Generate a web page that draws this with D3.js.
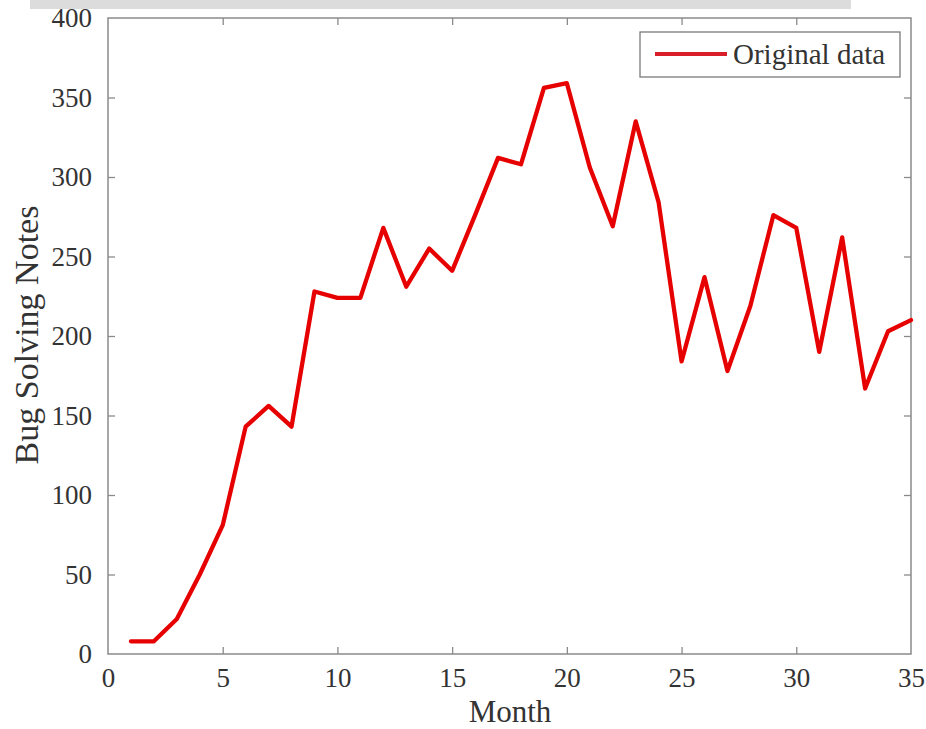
<!DOCTYPE html>
<html>
<head>
<meta charset="utf-8">
<script src="https://cdn.jsdelivr.net/npm/d3@7/dist/d3.min.js"></script>
<style>
  html, body { margin: 0; padding: 0; background: #fff; }
  svg { display: block; }
</style>
</head>
<body>
<svg id="chart" width="926" height="729"></svg>
<script>
const months = d3.range(1, 36);
const bugNotes = [8, 8, 22, 50, 81, 143, 156, 143, 228, 224,
                  224, 268, 231, 255, 241, 276, 312, 308, 356, 359,
                  306, 269, 335, 284, 184, 237, 178, 219, 276, 268,
                  190, 262, 167, 203, 210];
const xTicks = [0, 5, 10, 15, 20, 25, 30, 35];
const yTicks = [0, 50, 100, 150, 200, 250, 300, 350, 400];
const seriesName = "Original data";
const xLabel = "Month";
const yLabel = "Bug Solving Notes";

const svg = d3.select("#chart");
const L = 108, R = 911, T = 18, B = 654;
const x = d3.scaleLinear().domain([0, 35]).range([L, R]);
const y = d3.scaleLinear().domain([0, 400]).range([B, T]);

const font = "'Liberation Serif', 'Times New Roman', serif";
const axisColor = "#8a8a8a";
const textColor = "#333";

// top gray strip
svg.append("rect").attr("x", 30).attr("y", 0).attr("width", 821).attr("height", 9).attr("fill", "#dcdcdc");

// frame
svg.append("rect").attr("x", L).attr("y", T).attr("width", R - L).attr("height", B - T)
  .attr("fill", "none").attr("stroke", axisColor).attr("stroke-width", 1.5);

function styleAxis(g) {
  g.select(".domain").remove();
  g.selectAll(".tick line").attr("stroke", axisColor).attr("stroke-width", 1.3);
  g.selectAll(".tick text").attr("fill", textColor).style("font-family", font).style("font-size", "27px");
}

svg.append("g").attr("transform", `translate(0,${B})`)
  .call(d3.axisBottom(x).tickValues(xTicks).tickSizeInner(-7).tickSizeOuter(0).tickPadding(14).tickFormat(d3.format("d")))
  .call(styleAxis);
svg.append("g").attr("transform", `translate(0,${T})`)
  .call(d3.axisTop(x).tickValues(xTicks).tickSizeInner(-7).tickSizeOuter(0).tickFormat(""))
  .call(styleAxis);
svg.append("g").attr("transform", `translate(${L},0)`)
  .call(d3.axisLeft(y).tickValues(yTicks).tickSizeInner(-7).tickSizeOuter(0).tickPadding(16).tickFormat(d3.format("d")))
  .call(styleAxis);
svg.append("g").attr("transform", `translate(${R},0)`)
  .call(d3.axisRight(y).tickValues(yTicks).tickSizeInner(-7).tickSizeOuter(0).tickFormat(""))
  .call(styleAxis);

// hide end ticks that overlap frame corners
svg.selectAll(".tick line").filter(function(d){ return d === 0 || d === 35 || d === 400; }).remove();

// line
const line = d3.line().x((d, i) => x(months[i])).y(d => y(d));
svg.append("path").datum(bugNotes).attr("d", line)
  .attr("fill", "none").attr("stroke", "#e60000").attr("stroke-width", 4.3)
  .attr("stroke-linejoin", "round").attr("stroke-linecap", "round");

// axis labels
svg.append("text").attr("x", 510).attr("y", 722).attr("text-anchor", "middle")
  .attr("fill", textColor).style("font-family", font).style("font-size", "31px").text(xLabel);
svg.append("text").attr("transform", "translate(38,335) rotate(-90)").attr("text-anchor", "middle")
  .attr("fill", textColor).style("font-family", font).style("font-size", "34px").text(yLabel);

// legend
const lg = svg.append("g");
lg.append("rect").attr("x", 640).attr("y", 32).attr("width", 260).attr("height", 45)
  .attr("fill", "#fff").attr("stroke", "#7a7a7a").attr("stroke-width", 1.3);
lg.append("line").attr("x1", 655).attr("x2", 727).attr("y1", 54).attr("y2", 54)
  .attr("stroke", "#d81e28").attr("stroke-width", 4);
lg.append("text").attr("x", 733).attr("y", 64).attr("fill", textColor)
  .style("font-family", font).style("font-size", "29px").text(seriesName);
</script>
</body>
</html>
